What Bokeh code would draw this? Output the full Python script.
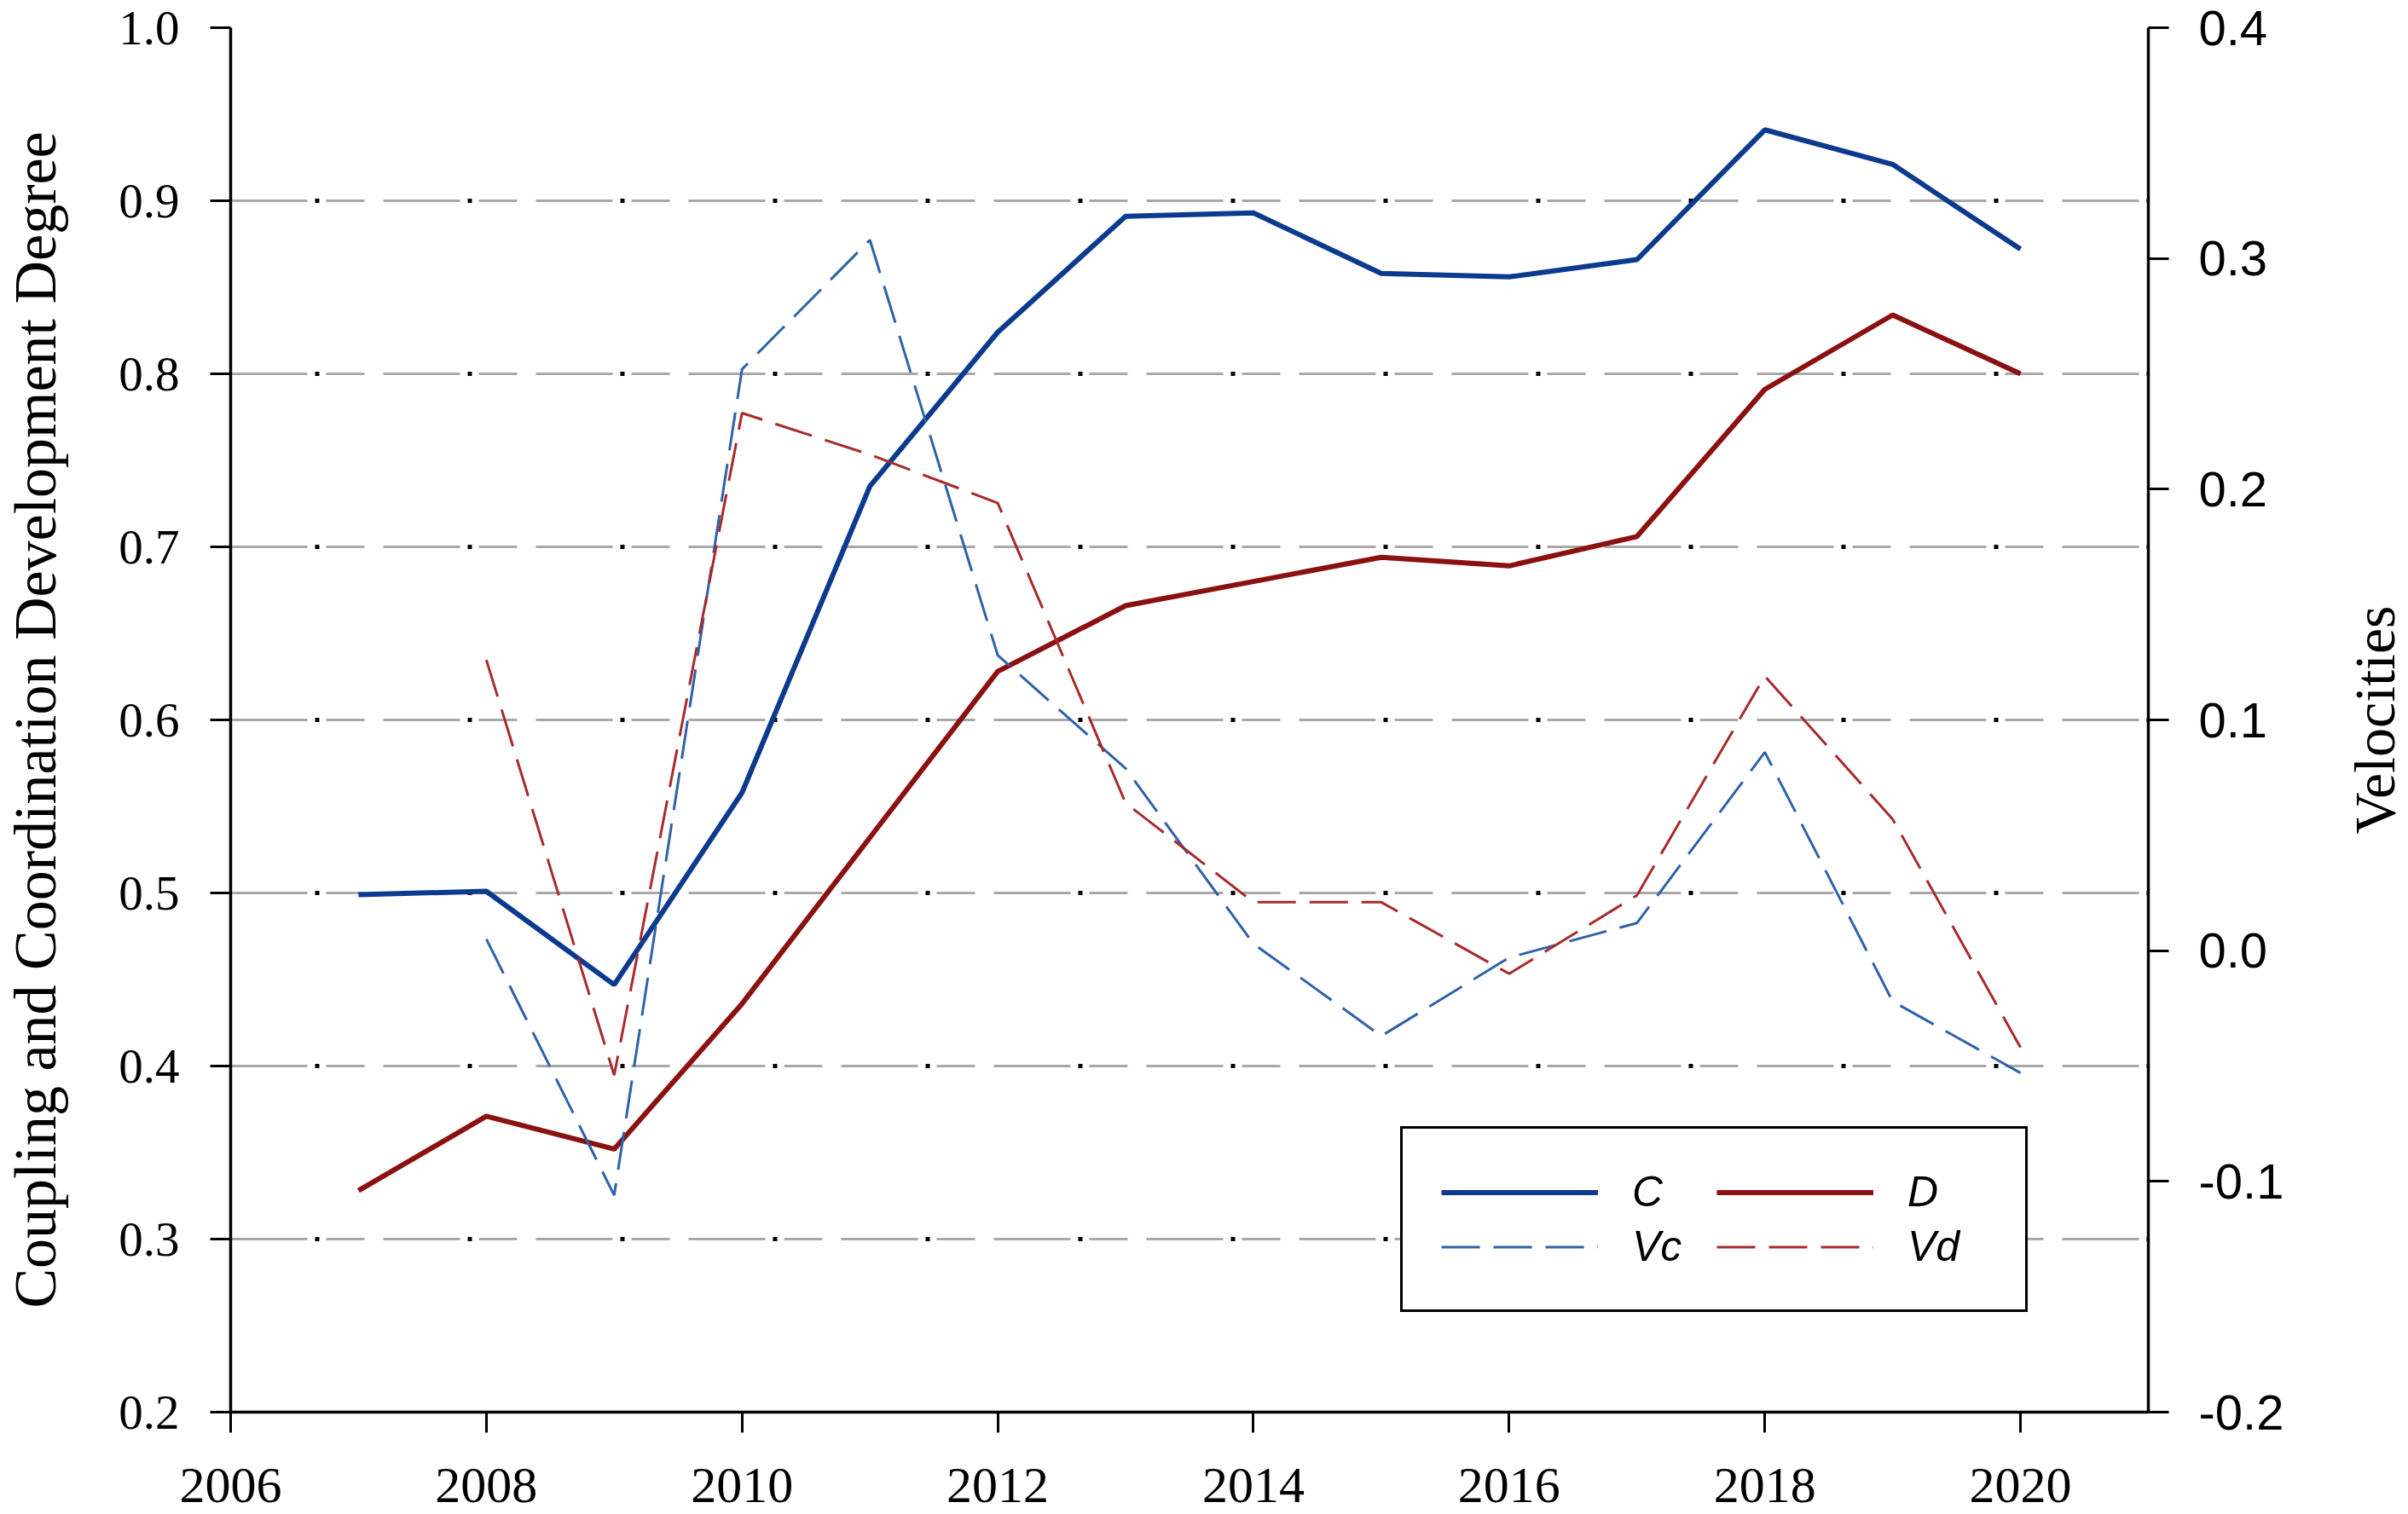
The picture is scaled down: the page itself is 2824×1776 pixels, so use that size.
import math
from bokeh.plotting import figure
from bokeh.layouts import row
from bokeh.models import (Range1d, LinearAxis, FixedTicker, NumeralTickFormatter,
                          Legend, LegendItem, Grid)
from bokeh.core.properties import value
from bokeh.embed import file_html
from bokeh.resources import INLINE

# ---- data ----
years = [2007, 2008, 2009, 2010, 2011, 2012, 2013, 2014, 2015, 2016, 2017, 2018, 2019, 2020]
C = [0.499, 0.501, 0.447, 0.558, 0.735, 0.824, 0.891, 0.893, 0.858, 0.856, 0.866, 0.941, 0.921, 0.872]
D = [0.328, 0.371, 0.352, 0.436, 0.532, 0.628, 0.666, 0.680, 0.694, 0.689, 0.706, 0.791, 0.834, 0.800]
v_years = [2008, 2009, 2010, 2011, 2012, 2013, 2014, 2015, 2016, 2017, 2018, 2019, 2020]
Vc = [0.005, -0.106, 0.252, 0.308, 0.128, 0.079, 0.003, -0.037, -0.003, 0.012, 0.086, -0.022, -0.053]
Vd = [0.126, -0.054, 0.233, 0.215, 0.194, 0.064, 0.021, 0.021, -0.010, 0.024, 0.119, 0.057, -0.042]
x_ticks = [2006, 2008, 2010, 2012, 2014, 2016, 2018, 2020]
left_ticks = [0.2, 0.3, 0.4, 0.5, 0.6, 0.7, 0.8, 0.9, 1.0]
right_ticks = [-0.2, -0.1, 0.0, 0.1, 0.2, 0.3, 0.4]
grid_ticks = [0.3, 0.4, 0.5, 0.6, 0.7, 0.8, 0.9, 1.0]
right_title = "Velocities"

SERIF = "Liberation Serif"
SANS = "Liberation Sans"
W_MAIN, W_SIDE, H = 2744, 80, 1776
TOP, BOTTOM = 32, 120

p = figure(width=W_MAIN, height=H, output_backend="svg", toolbar_location=None,
           x_range=Range1d(2006, 2021), y_range=Range1d(0.2, 1.0),
           min_border_left=266, min_border_right=225, min_border_top=TOP,
           min_border_bottom=BOTTOM)
p.outline_line_color = None
p.background_fill_color = "white"
p.border_fill_color = "white"
p.extra_y_ranges = {"v": Range1d(-0.2, 0.4)}

# axes
xa = p.xaxis[0]
xa.ticker = FixedTicker(ticks=x_ticks)
ya = p.yaxis[0]
ya.ticker = FixedTicker(ticks=left_ticks)
ya.formatter = NumeralTickFormatter(format="0.0")
ya.axis_label = "Coupling and Coordination Development Degree"

ra = LinearAxis(y_range_name="v", ticker=FixedTicker(ticks=right_ticks),
                formatter=NumeralTickFormatter(format="0.0"))
p.add_layout(ra, "right")

for ax in (xa, ya, ra):
    ax.axis_line_color = "black"
    ax.axis_line_width = 3.5
    ax.major_tick_line_color = "black"
    ax.major_tick_line_width = 3
    ax.major_tick_out = 24
    ax.major_tick_in = 0
    ax.minor_tick_line_color = None
    ax.major_label_text_color = "black"
    ax.axis_label_text_color = "black"
    ax.axis_label_text_font_style = "normal"

xa.major_label_text_font = SERIF
xa.major_label_text_font_size = "60px"
xa.major_label_text_line_height = 0.8
xa.major_label_standoff = 42
ya.major_label_text_font = SERIF
ya.major_label_text_font_size = "57px"
ya.major_label_standoff = 36
ya.axis_label_text_font = SERIF
ya.axis_label_text_font_size = "70px"
ya.axis_label_standoff = 56
ra.major_label_text_font = SANS
ra.major_label_text_font_size = "58px"
ra.major_label_standoff = 35

# grids
p.xgrid.visible = False
p.ygrid.ticker = FixedTicker(ticks=grid_ticks)
p.ygrid.grid_line_color = "#a8a8a8"
p.ygrid.grid_line_width = 3
p.ygrid.grid_line_dash = "90 22 45 22"
dots = Grid(dimension=1, ticker=FixedTicker(ticks=grid_ticks),
            grid_line_color="black", grid_line_width=5,
            grid_line_dash="5 174", grid_line_dash_offset=80)
p.center.append(dots)

# series
rC = p.line(years, C, line_color="#0B3A8E", line_width=6)
rD = p.line(years, D, line_color="#8B1010", line_width=6)
rVc = p.line(v_years, Vc, y_range_name="v", line_color="#2D62AA", line_width=3,
             line_dash="45 16")
rVd = p.line(v_years, Vd, y_range_name="v", line_color="#A82A2A", line_width=3,
             line_dash="45 16")

legend = Legend(items=[LegendItem(label="C", renderers=[rC]),
                       LegendItem(label="Vc", renderers=[rVc]),
                       LegendItem(label="D", renderers=[rD]),
                       LegendItem(label="Vd", renderers=[rVd])],
                ncols=2, location=(1372, 117),
                glyph_width=184, glyph_height=57, label_height=57, label_width=93,
                label_standoff=40, padding=45, spacing=6, margin=0,
                label_text_font=SANS, label_text_font_style="italic",
                label_text_font_size="50px", label_text_color="black",
                border_line_color="black", border_line_width=3, border_line_alpha=1,
                background_fill_color="white", background_fill_alpha=1)
p.add_layout(legend, "center")

# side strip holding the right-hand axis title (reads bottom to top)
side = figure(width=W_SIDE, height=H, output_backend="svg", toolbar_location=None,
              x_range=Range1d(0, 1), y_range=p.y_range,
              min_border_left=0, min_border_right=0, min_border_top=TOP,
              min_border_bottom=BOTTOM)
side.axis.visible = False
side.grid.visible = False
side.outline_line_color = None
y_mid = (p.y_range.start + p.y_range.end) / 2
side.text(x=[0.5], y=[y_mid], text=[right_title], angle=math.pi / 2,
          text_align="center", text_baseline="middle",
          text_font=value(SERIF), text_font_size="68px", text_color="black")

layout = row(p, side, spacing=0)
open("out.html", "w").write(file_html(layout, INLINE))
